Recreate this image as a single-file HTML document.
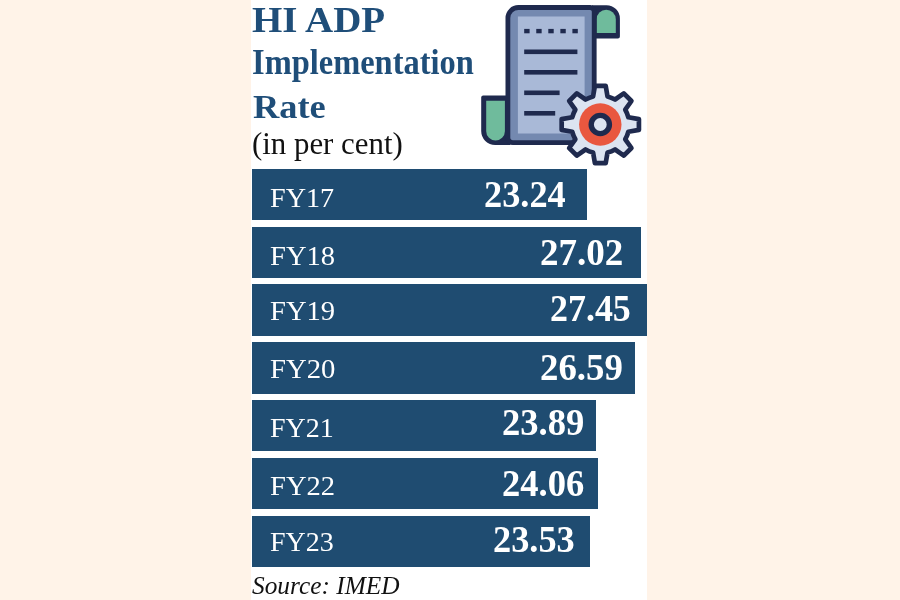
<!DOCTYPE html>
<html lang="en">
<head>
<meta charset="utf-8">
<title>HI ADP Implementation Rate</title>
<style>
html,body{margin:0;padding:0;}
body{width:900px;height:600px;background:#fff3e8;position:relative;overflow:hidden;font-family:"Liberation Serif",serif;}
.panel{position:absolute;left:251px;top:0;width:396px;height:600px;background:#fff;}
.t{position:absolute;white-space:nowrap;line-height:1;transform-origin:0 0;margin:0;font-weight:normal;}
.title{color:#1f4e79;font-weight:bold;}
.heading{margin:0;padding:0;font-size:inherit;font-weight:inherit;}
.sub{color:#111;}
.bar{position:absolute;left:252px;background:#1f4c71;}
.lab{color:#fff;}
.val{color:#fff;font-weight:bold;}
.src{color:#111;font-style:italic;}
svg.icon{position:absolute;left:0;top:0;}
</style>
</head>
<body>
<div class="panel"></div>
<h1 class="heading">
  <span class="t title" style="left:252.33px;top:1.85px;font-size:36px;transform:scaleX(1.0818);">HI ADP</span>
  <span class="t title" style="left:252.09px;top:45.42px;font-size:35.2px;transform:scaleX(0.9226);">Implementation</span>
  <span class="t title" style="left:252.57px;top:89.59px;font-size:33.8px;transform:scaleX(1.0768);">Rate</span>
</h1>
<p class="t sub" style="left:251.81px;top:128.50px;font-size:30.8px;transform:scaleX(1.0020);">(in per cent)</p>
<div class="chart">
  <div class="bar" style="top:169.0px;height:51.2px;width:334.5px;">
    <span class="t lab" style="left:18.10px;top:15.05px;font-size:28px;transform:scaleX(1.0044);">FY17</span>
    <span class="t val" style="left:232.17px;top:7.29px;font-size:37.5px;transform:scaleX(0.9685);">23.24</span>
  </div>
  <div class="bar" style="top:227.0px;height:50.7px;width:388.8px;">
    <span class="t lab" style="left:17.78px;top:14.55px;font-size:28px;transform:scaleX(1.0195);">FY18</span>
    <span class="t val" style="left:288.13px;top:6.89px;font-size:37.5px;transform:scaleX(0.9879);">27.02</span>
  </div>
  <div class="bar" style="top:284.3px;height:51.6px;width:395.0px;">
    <span class="t lab" style="left:17.78px;top:12.85px;font-size:28px;transform:scaleX(1.0205);">FY19</span>
    <span class="t val" style="left:298.48px;top:5.59px;font-size:37.5px;transform:scaleX(0.9580);">27.45</span>
  </div>
  <div class="bar" style="top:342.3px;height:51.4px;width:382.5px;">
    <span class="t lab" style="left:17.77px;top:12.45px;font-size:28px;transform:scaleX(1.0256);">FY20</span>
    <span class="t val" style="left:288.14px;top:6.69px;font-size:37.5px;transform:scaleX(0.9826);">26.59</span>
  </div>
  <div class="bar" style="top:400.3px;height:51.1px;width:344.0px;">
    <span class="t lab" style="left:17.80px;top:13.65px;font-size:28px;transform:scaleX(1.0005);">FY21</span>
    <span class="t val" style="left:249.75px;top:3.99px;font-size:37.5px;transform:scaleX(0.9752);">23.89</span>
  </div>
  <div class="bar" style="top:458.3px;height:50.9px;width:346.0px;">
    <span class="t lab" style="left:17.78px;top:13.85px;font-size:28px;transform:scaleX(1.0197);">FY22</span>
    <span class="t val" style="left:249.76px;top:6.69px;font-size:37.5px;transform:scaleX(0.9748);">24.06</span>
  </div>
  <div class="bar" style="top:515.7px;height:50.9px;width:338.3px;">
    <span class="t lab" style="left:17.80px;top:12.45px;font-size:28px;transform:scaleX(1.0006);">FY23</span>
    <span class="t val" style="left:240.86px;top:5.59px;font-size:37.5px;transform:scaleX(0.9691);">23.53</span>
  </div>
</div>
<p class="t src" style="left:252.38px;top:572.89px;font-size:25.8px;transform:scaleX(0.9823);">Source: IMED</p>
<svg class="icon" width="900" height="600" viewBox="0 0 900 600">
<path d="M483.2,95.5 H510 V145.1 H495.2 A14,14 0 0 1 481.2,131.1 V97.5 A2,2 0 0 1 483.2,95.5 Z" fill="#1f2a4e"/>
<path d="M486.2,100.8 H504.9 V131.2 A9.35,9.35 0 0 1 486.2,131.2 Z" fill="#6fbb9c"/>
<path d="M592,5.2 H606.5 A13.4,13.4 0 0 1 619.9,18.6 V36.6 A2,2 0 0 1 617.9,38.6 H592 Z" fill="#1f2a4e"/>
<path d="M596.6,33 V19.4 A9.6,9.6 0 0 1 615.8,19.4 V33 Z" fill="#6fbb9c"/>
<path d="M590.2,7.5 H518.4 A10.5,10.5 0 0 0 507.9,18 V137.7 A5,5 0 0 0 512.9,142.7 H594.2 V11.5 A4,4 0 0 0 590.2,7.5 Z" fill="#7489b0" stroke="#1f2a4e" stroke-width="4.8" stroke-linejoin="round"/>
<rect x="517.9" y="16.5" width="66.7" height="117" fill="#a9b9d7"/>
<rect x="524.20" y="28.9" width="5.4" height="4.4" fill="#1f2a4e"/>
<rect x="536.25" y="28.9" width="5.4" height="4.4" fill="#1f2a4e"/>
<rect x="548.30" y="28.9" width="5.4" height="4.4" fill="#1f2a4e"/>
<rect x="560.35" y="28.9" width="5.4" height="4.4" fill="#1f2a4e"/>
<rect x="572.40" y="28.9" width="5.4" height="4.4" fill="#1f2a4e"/>
<rect x="524.2" y="49.50" width="53.20" height="4.6" fill="#1f2a4e"/>
<rect x="524.2" y="70.00" width="53.20" height="4.6" fill="#1f2a4e"/>
<rect x="524.2" y="90.50" width="35.40" height="4.6" fill="#1f2a4e"/>
<rect x="524.2" y="111.00" width="31.00" height="4.6" fill="#1f2a4e"/>
<path d="M593.10,96.41L594.90,85.88L605.70,85.88L607.50,96.41A29.0,29.0 0 0 1 615.07,99.54L623.79,93.37L631.43,101.01L625.26,109.73A29.0,29.0 0 0 1 628.39,117.30L638.92,119.10L638.92,129.90L628.39,131.70A29.0,29.0 0 0 1 625.26,139.27L631.43,147.99L623.79,155.63L615.07,149.46A29.0,29.0 0 0 1 607.50,152.59L605.70,163.12L594.90,163.12L593.10,152.59A29.0,29.0 0 0 1 585.53,149.46L576.81,155.63L569.17,147.99L575.34,139.27A29.0,29.0 0 0 1 572.21,131.70L561.68,129.90L561.68,119.10L572.21,117.30A29.0,29.0 0 0 1 575.34,109.73L569.17,101.01L576.81,93.37L585.53,99.54A29.0,29.0 0 0 1 593.10,96.41Z" fill="#dce4f1" stroke="#1f2a4e" stroke-width="4.7" stroke-linejoin="round"/>
<circle cx="600.3" cy="124.5" r="21.2" fill="#e9573f"/>
<circle cx="600.3" cy="124.5" r="9.1" fill="#dce4f1" stroke="#1f2a4e" stroke-width="5.4"/>
</svg>
</body>
</html>
